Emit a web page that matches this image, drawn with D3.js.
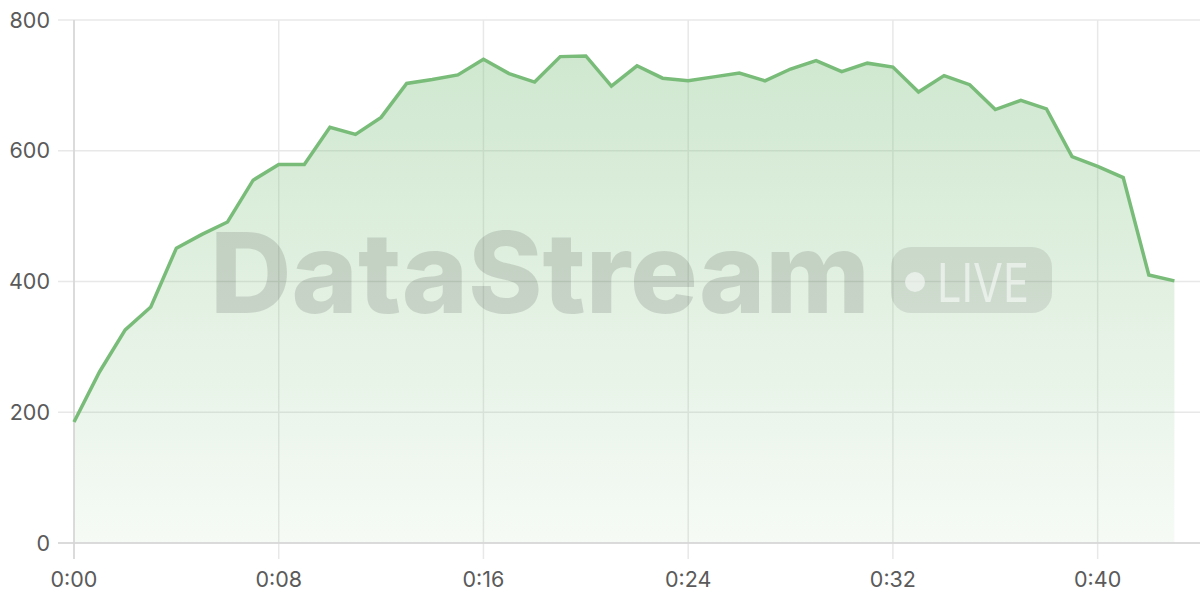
<!DOCTYPE html>
<html><head><meta charset="utf-8">
<script src="https://cdn.jsdelivr.net/npm/d3@7"></script>
<style>
html,body{margin:0;padding:0;background:#fff;}
svg{display:block;font-family:Inter,"Noto Sans",sans-serif;}
</style></head>
<body><svg id="c" width="1200" height="600"></svg>
<script>
const minutes = [0,1,2,3,4,5,6,7,8,9,10,11,12,13,14,15,16,17,18,19,20,21,22,23,24,25,26,27,28,29,30,31,32,33,34,35,36,37,38,39,40,41,42,43];
const values = [185,262,326,361,451,472,491,555,579,579,636,625,651,703,709,716,740,718,705,744,745,699,730,711,707,713,719,707,725,738,721,734,728,690,715,701,663,677,664,591,576,559,410,401];
const xTicks = [0,8,16,24,32,40];
const yTicks = [0,200,400,600,800];

const svg = d3.select("#c");
const W = 1200, H = 600;
const m = {left:74, right:0, top:20, bottom:57};
const x = d3.scaleLinear().domain([0,44]).range([m.left, W - m.right]);
const y = d3.scaleLinear().domain([0,800]).range([H - m.bottom, m.top]);

const defs = svg.append("defs");
const grad = defs.append("linearGradient").attr("id","g").attr("gradientUnits","userSpaceOnUse")
  .attr("x1",0).attr("x2",0).attr("y1",y(800)).attr("y2",y(0));
grad.append("stop").attr("offset","0%").attr("stop-color","#7abd7a").attr("stop-opacity",0.38);
grad.append("stop").attr("offset","100%").attr("stop-color","#7abd7a").attr("stop-opacity",0.07);

// grid
svg.append("g").selectAll("line").data(yTicks).join("line")
  .attr("x1", 58).attr("x2", W).attr("y1", d=>y(d)).attr("y2", d=>y(d))
  .attr("stroke","#e8e8e8").attr("stroke-width",1.5);
svg.append("g").selectAll("line").data(xTicks).join("line")
  .attr("x1", d=>x(d)).attr("x2", d=>x(d)).attr("y1", y(800)).attr("y2", y(0)+16)
  .attr("stroke","#e8e8e8").attr("stroke-width",1.5);

// area & line
const area = d3.area().x((d,i)=>x(minutes[i])).y0(y(0)).y1(d=>y(d));
const line = d3.line().x((d,i)=>x(minutes[i])).y(d=>y(d));
svg.append("path").datum(values).attr("d",area).attr("fill","url(#g)");

// axes lines
svg.append("line").attr("x1",x(0)).attr("x2",x(0)).attr("y1",y(800)).attr("y2",y(0)+16)
  .attr("stroke","#d4d4d4").attr("stroke-width",1.5);
svg.append("line").attr("x1",58).attr("x2",W).attr("y1",y(0)).attr("y2",y(0))
  .attr("stroke","#d4d4d4").attr("stroke-width",1.5);

svg.append("path").datum(values).attr("d",line).attr("fill","none")
  .attr("stroke","#79bc79").attr("stroke-width",3.5).attr("stroke-linejoin","miter");

// labels
svg.append("g").selectAll("text").data(yTicks).join("text")
  .attr("x",50).attr("y",d=>y(d)).attr("dy","0.36em").attr("text-anchor","end")
  .attr("font-size",21.5).attr("fill","#5a5a5a").text(d=>d);
const fmt = d => "0:" + String(d).padStart(2,"0");
svg.append("g").selectAll("text").data(xTicks).join("text")
  .attr("x",d=>x(d)).attr("y",587).attr("text-anchor","middle")
  .attr("font-size",21.5).attr("fill","#5a5a5a").text(fmt);

// watermark
const wm = svg.append("g");
wm.append("text").attr("x",210).attr("y",313).attr("font-size",112).attr("font-weight",800)
  .attr("textLength",660).attr("lengthAdjust","spacingAndGlyphs")
  .attr("fill","rgba(0,0,0,0.12)").text("DataStream");
wm.append("rect").attr("x",891).attr("y",247).attr("width",161).attr("height",66).attr("rx",20)
  .attr("fill","rgba(0,0,0,0.09)");
wm.append("circle").attr("cx",915).attr("cy",282).attr("r",10).attr("fill","rgba(255,255,255,0.55)");
wm.append("text").attr("x",937).attr("y",302).attr("font-size",54).attr("font-weight",400)
  .attr("textLength",92).attr("lengthAdjust","spacingAndGlyphs")
  .attr("fill","rgba(255,255,255,0.55)").text("LIVE");
</script></body></html>
